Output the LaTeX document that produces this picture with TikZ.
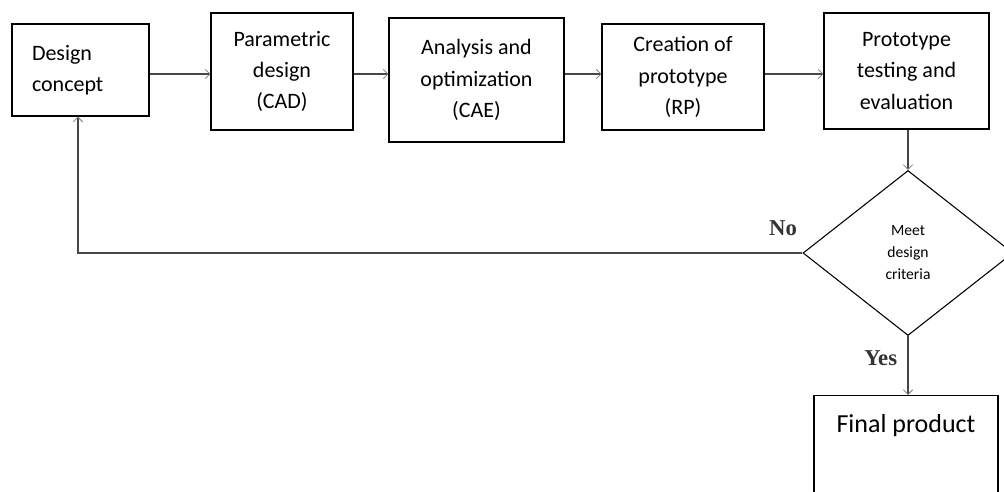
\documentclass[tikz,border=0pt]{standalone}
\usepackage{fontspec}
\setmainfont{Carlito}
\newfontfamily\labelfont{Liberation Serif}
\usetikzlibrary{shapes.geometric,arrows.meta}
\definecolor{linegray}{HTML}{474747}
\definecolor{tipgray}{HTML}{7A7A7A}
\begin{document}
\begin{tikzpicture}[
    x=0.75pt, y=-0.75pt,
    block/.style={rectangle, draw=black, line width=0.9pt, fill=white,
        text centered, align=center, text=black, inner sep=2pt,
        font=\fontsize{16.5}{23.5}\selectfont},
    decision/.style={diamond, draw=black, line width=0.8pt, fill=white,
        align=center, inner sep=0pt, minimum width=157.5pt, minimum height=123.75pt,
        font=\fontsize{11.7}{16.5}\selectfont},
    endblock/.style={rectangle, draw=black, line width=0.9pt, fill=white,
        align=center, anchor=north, minimum width=138pt,
        inner ysep=14pt, text depth=40pt,
        font=\fontsize{19.5}{23}\selectfont},
    arr/.style={draw=linegray, line width=1.7pt,
        -{Straight Barb[length=3.5pt, width=7pt, line width=0.6pt, color=tipgray]}},
    answer/.style={font=\labelfont\bfseries\fontsize{17}{20}\selectfont, text=black!80}]

\useasboundingbox (0,0) rectangle (1004,492);

\node (Step01) [block, minimum width=102.75pt, minimum height=69pt,
    text width=72.75pt, inner xsep=15pt, align=left] at (80.5,70) {Design\\concept};
\node (Step02) [block, minimum width=106.5pt, minimum height=87.75pt] at (282,71.5)
    {Parametric\\design\\(CAD)};
\node (Step03) [block, minimum width=131.25pt, minimum height=93pt] at (476.5,80)
    {Analysis and\\optimization\\(CAE)};
\node (Step04) [block, minimum width=121.5pt, minimum height=79.5pt] at (683,77)
    {Creation of\\prototype\\(RP)};
\node (Step05) [block, minimum width=123.75pt, minimum height=87pt] at (906.5,71)
    {Prototype\\testing and\\evaluation};
\node (Check) [decision] at (908,253) {Meet\\design\\criteria};
\node (Final) [endblock] at (906,395) {Final product};

\draw[arr] (Step01.east |- 0,74) -- (Step02.west |- 0,74);
\draw[arr] (Step02.east |- 0,74) -- (Step03.west |- 0,74);
\draw[arr] (Step03.east |- 0,74) -- (Step04.west |- 0,74);
\draw[arr] (Step04.east |- 0,74) -- (Step05.west |- 0,74);
\draw[arr] (Check.north |- Step05.south) -- (Check.north);
\draw[arr] (Check.west) -| ([xshift=-1.9pt]Step01.south)
    node[answer, pos=0, anchor=south east, yshift=9pt] {No};
\draw[arr] (Check.south) -- (Final.north -| Check.south)
    node[answer, pos=0.37, left, xshift=-4pt] {Yes};

\end{tikzpicture}
\end{document}
